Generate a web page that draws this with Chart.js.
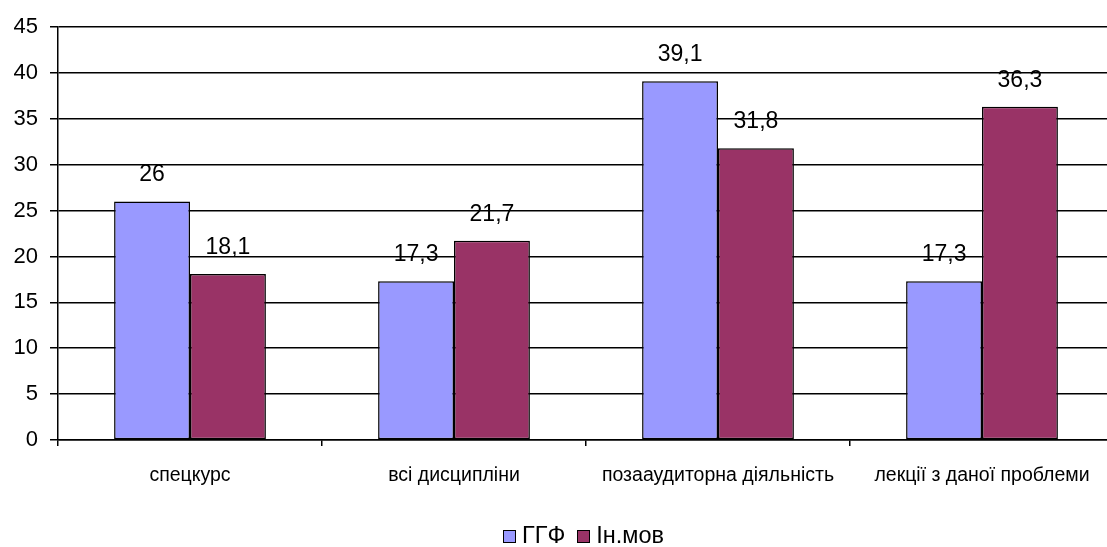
<!DOCTYPE html>
<html>
<head>
<meta charset="utf-8">
<script src="https://cdn.jsdelivr.net/npm/chart.js@4"></script>
<style>
html,body{margin:0;padding:0;background:#fff;overflow:hidden;width:1107px;height:547px;}
#wrap{position:absolute;left:0;top:0;width:1114px;height:547px;}
#legend{position:absolute;left:503px;top:522px;font-family:"Liberation Sans",Arial,sans-serif;font-size:23.5px;line-height:26px;color:#000;white-space:nowrap;}
#legend .it{display:inline-block;margin-right:12px;}
#legend .box{display:inline-block;width:11px;height:11px;border:1.5px solid #000;margin-right:6px;vertical-align:baseline;}
</style>
</head>
<body>
<div id="wrap"><canvas id="c"></canvas></div>
<div id="legend"></div>
<script>
const categories = ["спецкурс", "всі дисципліни", "позааудиторна діяльність", "лекції з даної проблеми"];
const seriesNames = ["ГГФ", "Ін.мов"];
const ggfValues = [26, 17.3, 39.1, 17.3];
const inmovValues = [18.1, 21.7, 31.8, 36.3];
const yTicks = [0, 5, 10, 15, 20, 25, 30, 35, 40, 45];
const colors = ["#9999FF", "#993366"];

const FONT = '"Liberation Sans", Arial, sans-serif';

const labelPlugin = {
  id: 'valueLabels',
  afterDatasetsDraw(chart) {
    const ctx = chart.ctx;
    ctx.save();
    ctx.font = '23px ' + FONT;
    ctx.fillStyle = '#000';
    ctx.textAlign = 'center';
    ctx.textBaseline = 'alphabetic';
    chart.data.datasets.forEach((ds, di) => {
      const meta = chart.getDatasetMeta(di);
      meta.data.forEach((bar, i) => {
        const txt = String(ds.data[i]).replace('.', ',');
        ctx.fillText(txt, bar.x, bar.y - 20);
      });
    });
    ctx.restore();
  }
};

const chart = new Chart(document.getElementById('c'), {
  type: 'bar',
  data: {
    labels: categories,
    datasets: [
      { label: seriesNames[0], data: ggfValues, backgroundColor: colors[0], borderColor: '#000', borderWidth: 1.5, borderSkipped: false },
      { label: seriesNames[1], data: inmovValues, backgroundColor: colors[1], borderColor: '#000', borderWidth: 1.5, borderSkipped: false }
    ]
  },
  options: {
    responsive: true,
    maintainAspectRatio: false,
    animation: false,
    layout: { padding: { top: 27, left: 0, right: 0, bottom: 0 } },
    datasets: { bar: { categoryPercentage: 0.575, barPercentage: 1.0 } },
    plugins: { legend: { display: false }, tooltip: { enabled: false } },
    scales: {
      x: {
        grid: { display: true, drawOnChartArea: false, drawTicks: true, tickLength: 6, color: '#000', lineWidth: 1.5, offset: true },
        border: { display: true, color: '#000', width: 1.5 },
        ticks: { color: '#000', font: { family: FONT, size: 19.5 }, padding: 18, maxRotation: 0, autoSkip: false },
        afterFit(s) { s.height = 107; }
      },
      y: {
        min: 0, max: 45,
        afterBuildTicks(s) { s.ticks = yTicks.map(v => ({ value: v })); },
        grid: { display: true, color: '#000', lineWidth: 1.5, tickLength: 8, drawTicks: true },
        border: { display: true, color: '#000', width: 1.5 },
        ticks: { color: '#000', font: { family: FONT, size: 22 }, padding: 12 },
        afterFit(s) { s.width = 58; }
      }
    }
  },
  plugins: [labelPlugin]
});

const lg = document.getElementById('legend');
chart.data.datasets.forEach(ds => {
  const it = document.createElement('span'); it.className = 'it';
  const b = document.createElement('span'); b.className = 'box'; b.style.background = ds.backgroundColor;
  const t = document.createElement('span'); t.textContent = ds.label;
  it.appendChild(b); it.appendChild(t); lg.appendChild(it);
});
</script>
</body>
</html>
